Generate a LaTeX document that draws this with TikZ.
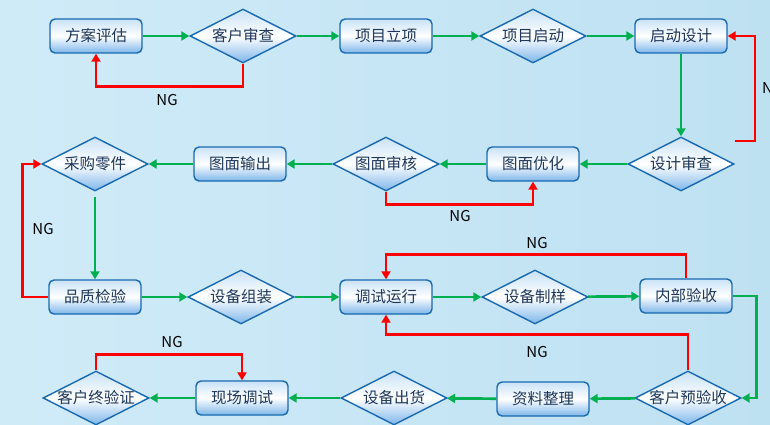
\documentclass[tikz,border=0pt]{standalone}
\usepackage{fontspec}
\newfontfamily\cjk{Noto Sans CJK SC}
\usetikzlibrary{shapes.geometric,arrows.meta}
\definecolor{bordc}{RGB}{25,105,175}
\definecolor{topc}{RGB}{200,226,247}
\definecolor{botc}{RGB}{125,182,234}
\definecolor{txtc}{RGB}{30,55,90}
\definecolor{okc}{RGB}{0,176,80}
\definecolor{ngc}{RGB}{255,0,0}
\definecolor{bgA}{RGB}{208,235,248}
\definecolor{bgB}{RGB}{190,225,242}
\begin{document}
\begin{tikzpicture}[x=1pt,y=-1pt,
  stepbox/.style={draw=bordc, line width=1.4pt, rounded corners=5pt,
    minimum width=92pt, minimum height=34pt, inner sep=0pt,
    top color=topc, bottom color=botc, middle color=white,
    font=\cjk\fontsize{15.5}{15.5}\selectfont, text=txtc},
  dia/.style={diamond, draw=bordc, line width=1.4pt, aspect=2,
    minimum width=106pt, minimum height=54pt, inner sep=0pt,
    top color=topc, bottom color=botc, middle color=white},
  diatxt/.style={inner sep=0pt, font=\cjk\fontsize{15.5}{15.5}\selectfont, text=txtc},
  ok/.style={draw=okc, line width=2.7pt, -{Triangle[length=8pt,width=9pt]}},
  ng/.style={draw=ngc, line width=2.7pt, -{Triangle[length=8pt,width=9pt]}},
  nglab/.style={font=\cjk\fontsize{15}{15}\selectfont, text=black, inner sep=0pt}]
\useasboundingbox (0,0) rectangle (770,425);
\fill[left color=bgA, right color=bgB] (0,0) rectangle (770,425);
% row 1
\node[stepbox] (b1) at (96,36) {方案评估};
\node[dia] (d2) at (243,36) {}; \node[diatxt] at (d2) {客户审查};
\node[stepbox] (b3) at (386,36) {项目立项};
\node[dia] (d4) at (533,36) {}; \node[diatxt] at (d4) {项目启动};
\node[stepbox] (b5) at (681,36) {启动设计};
% row 2
\node[dia] (d6) at (681,164) {}; \node[diatxt] at (d6) {设计审查};
\node[stepbox] (b7) at (533,164) {图面优化};
\node[dia] (d8) at (386,164) {}; \node[diatxt] at (d8) {图面审核};
\node[stepbox] (b9) at (240,164) {图面输出};
\node[dia] (d10) at (95,164) {}; \node[diatxt] at (d10) {采购零件};
% row 3
\node[stepbox] (b11) at (95,297) {品质检验};
\node[dia] (d12) at (241,297) {}; \node[diatxt] at (d12) {设备组装};
\node[stepbox] (b13) at (386,297) {调试运行};
\node[dia] (d14) at (535,297) {}; \node[diatxt] at (d14) {设备制样};
\node[stepbox] (b15) at (686,296) {内部验收};
% row 4
\node[dia] (d16) at (688,398) {}; \node[diatxt] at (d16) {客户预验收};
\node[stepbox] (b17) at (543,399) {资料整理};
\node[dia] (d18) at (394,398) {}; \node[diatxt] at (d18) {设备出货};
\node[stepbox] (b19) at (242,398) {现场调试};
\node[dia] (d20) at (96,398) {}; \node[diatxt] at (d20) {客户终验证};
% green flow
\draw[ok] (b1) -- (d2);
\draw[ok] (d2) -- (b3);
\draw[ok] (b3) -- (d4);
\draw[ok] (d4) -- (b5);
\draw[ok] (b5) -- (d6);
\draw[ok] (d6) -- (b7);
\draw[ok] (b7) -- (d8);
\draw[ok] (d8) -- (b9);
\draw[ok] (b9) -- (d10);
\draw[ok] ([yshift=-5pt]d10.south) -- (b11.north);
\draw[ok] (b11) -- (d12);
\draw[ok] (d12) -- (b13);
\draw[ok] (b13) -- (d14);
\draw[ok] (d14) -- (b15);
\draw[ok] (b15.east) -- ++(24,0) |- (d16.east);
\draw[ok] (d16) -- (b17);
\draw[ok] (b17) -- (d18);
\draw[ok] (d18) -- (b19);
\draw[ok] (b19) -- (d20);
% red NG loops
\draw[ng] (d2.south) -- ++(0,23) -| (b1.south);
\coordinate (rs) at (735,141);
\coordinate (rc) at (755,141);
\draw[ng] (rs) -- (rc) |- (b5.east);
\draw[ng] (d8.south) -- ++(0,13) -| (b7.south);
\draw[ng] (b11.west) -- ++(-26,0) |- (d10.west);
\draw[ng] (b15.north) -- ++(0,-24) -| (b13.north);
\draw[ng] (d16.north) -- ++(0,-36) -| (b13.south);
\draw[ng] (d20.north) -- ++(0,-16) -| (b19.north);
% labels
\node[nglab] (n1) at (167,100) {NG};
\node[nglab, anchor=west] (n2) at (762,88) {NG};
\node[nglab] (n3) at (460,216) {NG};
\node[nglab] (n4) at (43,229) {NG};
\node[nglab] (n5) at (537,243) {NG};
\node[nglab] (n6) at (537,352) {NG};
\node[nglab] (n7) at (172,342) {NG};
\end{tikzpicture}
\end{document}
